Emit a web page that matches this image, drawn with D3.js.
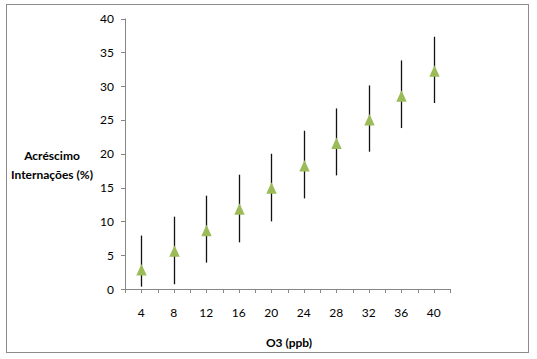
<!DOCTYPE html>
<html>
<head>
<meta charset="utf-8">
<script src="https://cdn.jsdelivr.net/npm/d3@7"></script>
<style>
  html, body { margin: 0; padding: 0; background: #fff; }
  svg { display: block; }
  text { font-family: Lato, "Open Sans", sans-serif; fill: #000; }
</style>
</head>
<body>
<svg id="chart" width="537" height="359"></svg>
<script>
const categories = ["4", "8", "12", "16", "20", "24", "28", "32", "36", "40"];
const estimate = [2.8, 5.6, 8.6, 11.8, 14.9, 18.2, 21.5, 25.0, 28.5, 32.2];
const lower = [0.35, 0.7, 3.9, 6.9, 10.0, 13.4, 16.8, 20.3, 23.8, 27.5];
const upper = [7.9, 10.7, 13.8, 16.9, 20.0, 23.4, 26.7, 30.1, 33.8, 37.3];
const yTicks = [0, 5, 10, 15, 20, 25, 30, 35, 40];
const yLabelLines = ["Acréscimo", "Internações (%)"];
const xLabel = "O3 (ppb)";

const svg = d3.select("#chart");

// outer frame
svg.append("rect")
  .attr("x", 6.5).attr("y", 4.5)
  .attr("width", 522).attr("height", 348)
  .attr("fill", "#fff").attr("stroke", "#8c8c8c").attr("stroke-width", 1);

const x = d3.scaleBand().domain(categories).range([125, 450]).padding(0);
const y = d3.scaleLinear().domain([0, 40]).range([289, 18.5]);
const cx = c => x(c) + x.bandwidth() / 2;
const axisColor = "#868686";

// y axis
const gy = svg.append("g");
gy.append("line")
  .attr("x1", 125.5).attr("x2", 125.5)
  .attr("y1", y(40)).attr("y2", y(0))
  .attr("stroke", axisColor).attr("stroke-width", 1);
gy.selectAll("line.tick").data(yTicks).join("line")
  .attr("class", "tick")
  .attr("x1", 121).attr("x2", 125.5)
  .attr("y1", d => Math.round(y(d)) + 0.5).attr("y2", d => Math.round(y(d)) + 0.5)
  .attr("stroke", axisColor).attr("stroke-width", 1);
gy.selectAll("text").data(yTicks).join("text")
  .attr("x", 114).attr("y", d => y(d) + 4.5)
  .attr("text-anchor", "end")
  .attr("font-size", 12)
  .text(d => d);

// x axis
const gx = svg.append("g");
gx.append("line")
  .attr("x1", 125).attr("x2", 450.5)
  .attr("y1", y(0) + 0.5).attr("y2", y(0) + 0.5)
  .attr("stroke", axisColor).attr("stroke-width", 1);
const xTickPos = [];
categories.forEach(c => { xTickPos.push(x(c)); xTickPos.push(cx(c)); });
xTickPos.push(x(categories[categories.length - 1]) + x.bandwidth());
gx.selectAll("line.tick").data(xTickPos).join("line")
  .attr("class", "tick")
  .attr("x1", d => Math.round(d) + 0.5).attr("x2", d => Math.round(d) + 0.5)
  .attr("y1", y(0)).attr("y2", y(0) + 4)
  .attr("stroke", axisColor).attr("stroke-width", 1);
gx.selectAll("text").data(categories).join("text")
  .attr("x", d => cx(d)).attr("y", 316.5)
  .attr("text-anchor", "middle")
  .attr("font-size", 12)
  .text(d => d);

// error bars
const data = categories.map((c, i) => ({ c, v: estimate[i], lo: lower[i], hi: upper[i] }));
svg.append("g").selectAll("line").data(data).join("line")
  .attr("x1", d => Math.round(cx(d.c)) + 0.5).attr("x2", d => Math.round(cx(d.c)) + 0.5)
  .attr("y1", d => y(d.hi)).attr("y2", d => y(d.lo))
  .attr("stroke", "#111").attr("stroke-width", 1.3);

// triangle markers
const tri = (px, py) => {
  const p = d3.path();
  p.moveTo(px, py - 6);
  p.lineTo(px + 5.2, py + 5.5);
  p.lineTo(px - 5.2, py + 5.5);
  p.closePath();
  return p.toString();
};
svg.append("g").selectAll("path").data(data).join("path")
  .attr("d", d => tri(Math.round(cx(d.c)) + 0.5, y(d.v)))
  .attr("fill", "#9bbb59");

// axis titles
svg.append("text")
  .attr("x", 52).attr("y", 160)
  .attr("text-anchor", "middle")
  .attr("font-size", 12).attr("font-weight", "bold")
  .selectAll("tspan").data(yLabelLines).join("tspan")
  .attr("x", 52).attr("dy", (d, i) => i === 0 ? 0 : 18.5)
  .text(d => d);

svg.append("text")
  .attr("x", 289).attr("y", 346.5)
  .attr("text-anchor", "middle")
  .attr("font-size", 12).attr("font-weight", "bold")
  .text(xLabel);
</script>
</body>
</html>
